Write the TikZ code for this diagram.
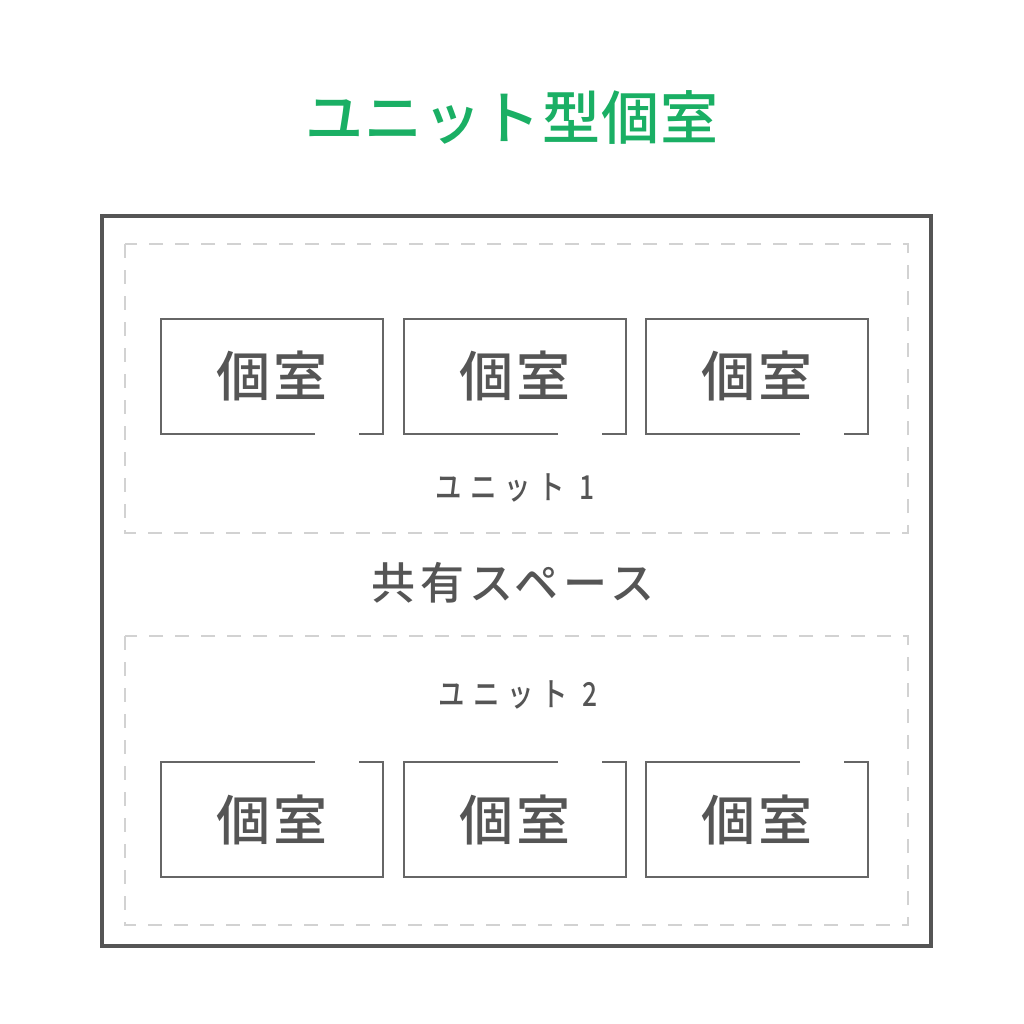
\documentclass[tikz,border=0pt]{standalone}
\usepackage{fontspec}
\setmainfont{Noto Sans CJK JP Medium}
\usepackage{tikz}
\usetikzlibrary{calc}
\definecolor{titlegreen}{HTML}{1AAF64}
\definecolor{inkgray}{HTML}{555555}
\definecolor{wallgray}{HTML}{666666}
\definecolor{dashgray}{HTML}{D2D2D2}

\begin{document}
\begin{tikzpicture}[x=1pt,y=-1pt,
    room/.style={minimum width=222pt,minimum height=115pt,inner sep=0pt,outer sep=0pt,
        text=inkgray,font=\fontsize{54}{54}\selectfont\addfontfeatures{LetterSpace=5}},
    wall/.style={line width=2pt,wallgray},
    unitbox/.style={line width=2pt,dashgray,dash pattern=on 14pt off 12pt},
    unitlabel/.style={text=inkgray,inner sep=0pt,xscale=0.8,transform shape,
        font=\fontsize{33}{33}\selectfont\addfontfeatures{LetterSpace=30}}]
    \useasboundingbox (0,0) rectangle (1024,1024);

    \node[text=titlegreen,font=\fontsize{58}{58}\selectfont\addfontfeatures{LetterSpace=2}] (title) at (512,117) {ユニット型個室};

    \draw[line width=4pt,inkgray] (101.5,216) rectangle (931,946);   % building
    \draw[unitbox] (125,244) rectangle (908,533);                     % unit 1
    \draw[unitbox] (125,636) rectangle (908,925);                     % unit 2

    \node[unitlabel] (unit1) at (515,488) {ユニット 1};
    \node[unitlabel] (unit2) at (518,695) {ユニット 2};
    \node[text=inkgray,font=\fontsize{44}{44}\selectfont\addfontfeatures{LetterSpace=11}] (shared) at (513,583) {共有スペース};

    \foreach \x [count=\i] in {272,515,757} {
        % rooms of unit 1, door on the bottom side
        \node[room] (ra\i) at (\x,376.5) {\raisebox{5pt}{個室}};
        \draw[wall] ([xshift=-68pt]ra\i.south east) -- (ra\i.south west) -- (ra\i.north west)
            -- (ra\i.north east) -- (ra\i.south east) -- ([xshift=-24pt]ra\i.south east);
        % rooms of unit 2, door on the top side
        \node[room] (rb\i) at (\x,819.5) {個室};
        \draw[wall] ([xshift=-68pt]rb\i.north east) -- (rb\i.north west) -- (rb\i.south west)
            -- (rb\i.south east) -- (rb\i.north east) -- ([xshift=-24pt]rb\i.north east);
    }
\end{tikzpicture}
\end{document}
